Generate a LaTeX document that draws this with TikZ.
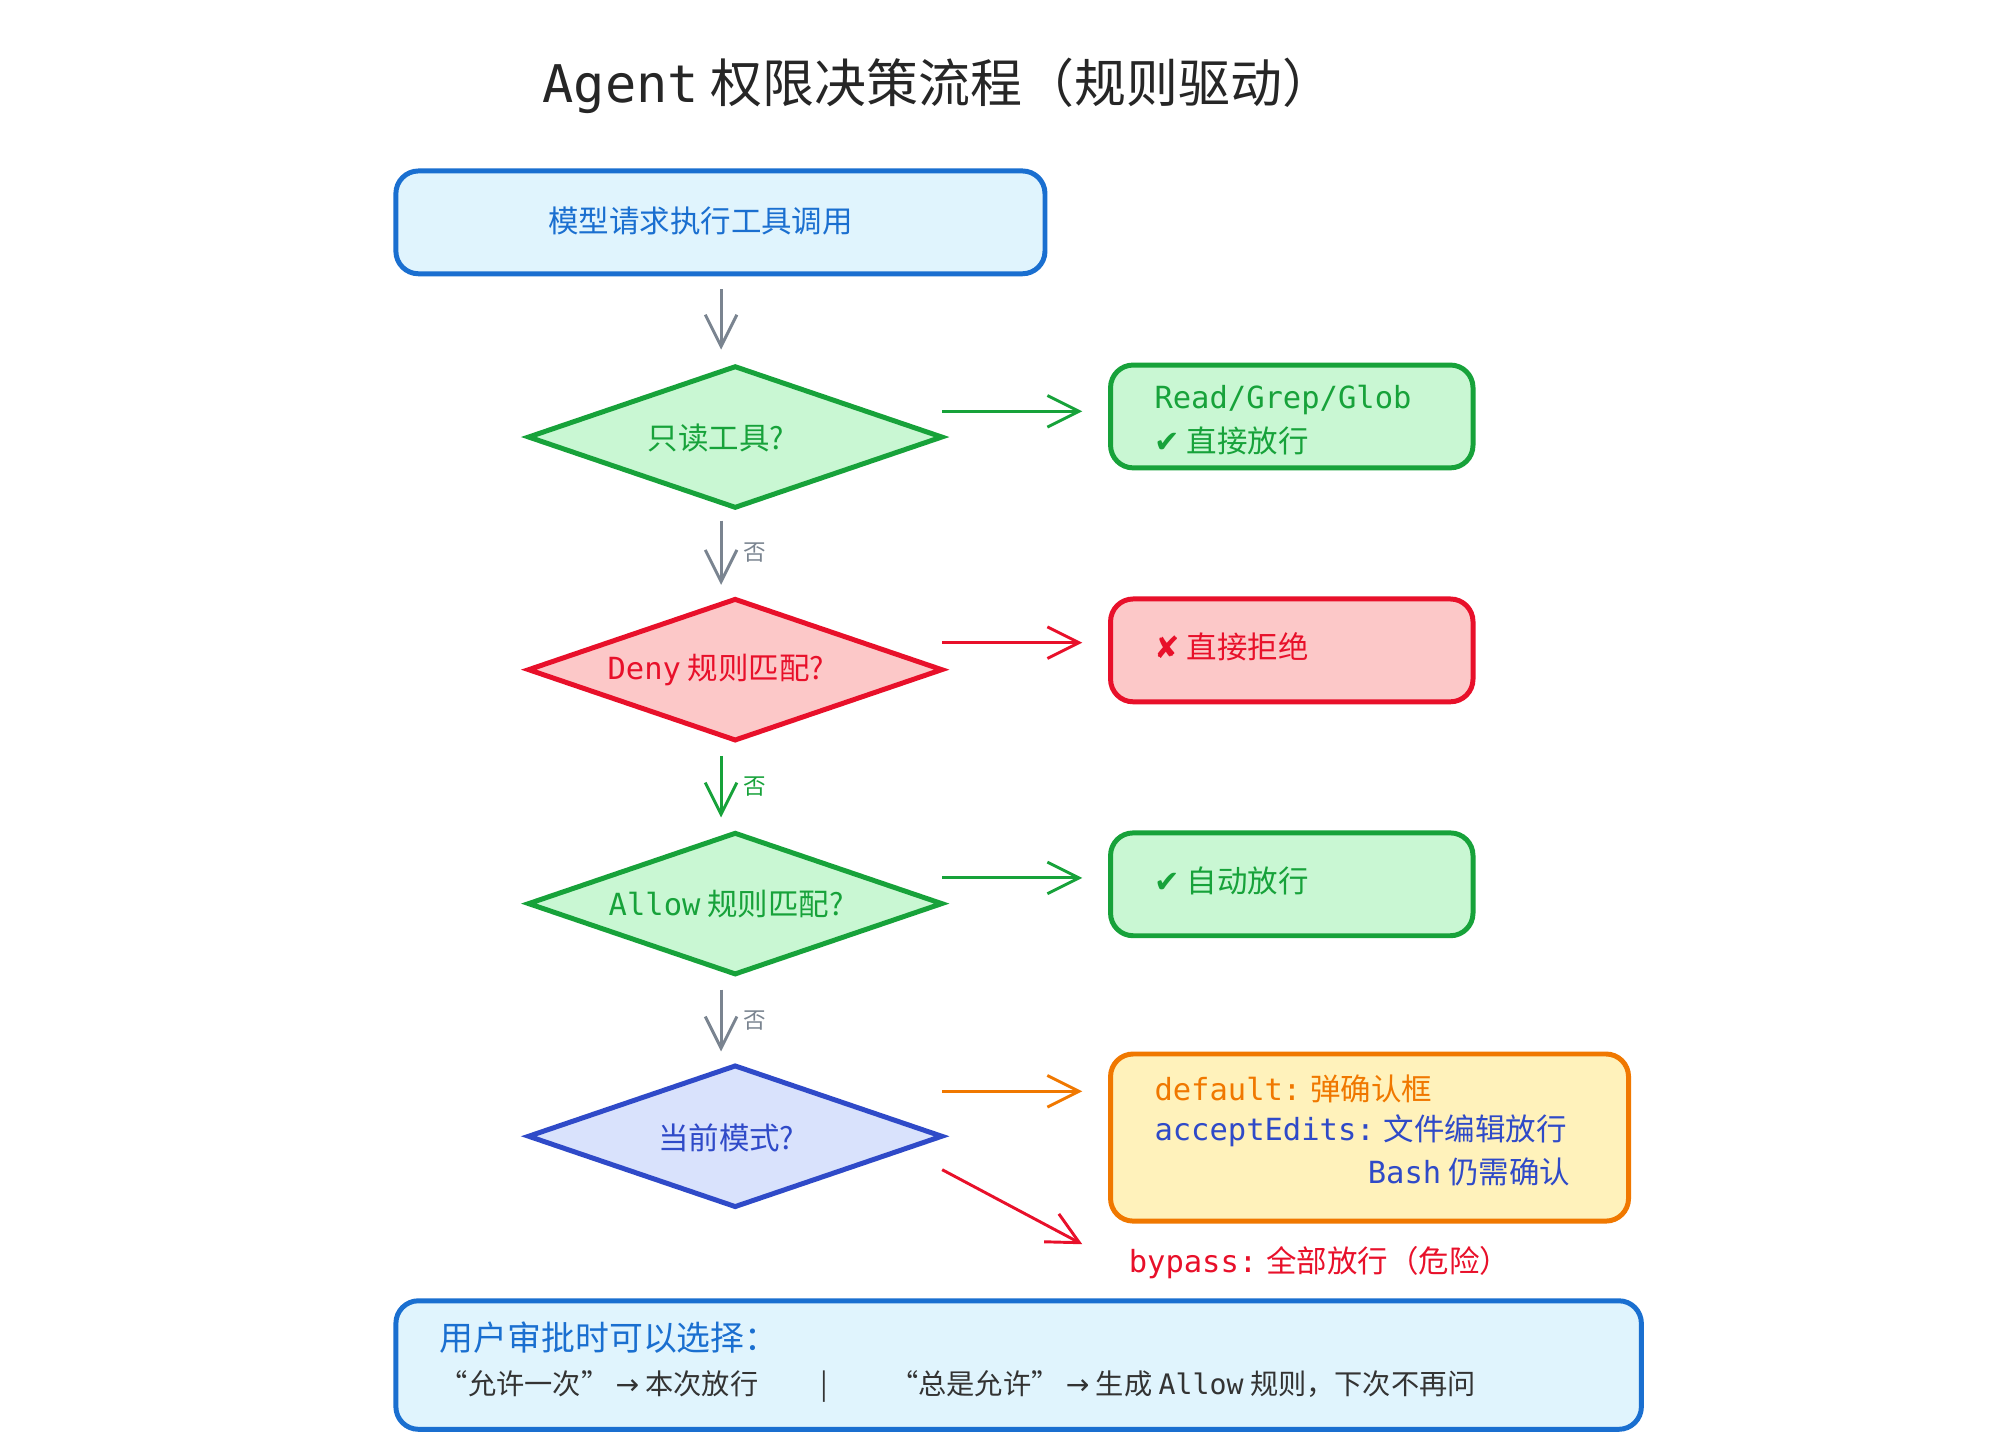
\documentclass[tikz,border=0pt]{standalone}
\usepackage{fontspec}
\setmainfont{Noto Sans CJK SC}
\setmonofont{DejaVu Sans Mono}
\newfontfamily\sym{DejaVu Sans}
\usetikzlibrary{arrows.meta,shapes.geometric}
\definecolor{gblue}{HTML}{1A6FD0}
\definecolor{lblue}{HTML}{E0F4FD}
\definecolor{ggreen}{HTML}{17A23A}
\definecolor{lgreen}{HTML}{C9F7D3}
\definecolor{rred}{HTML}{E8102A}
\definecolor{lred}{HTML}{FCC8C8}
\definecolor{bblue}{HTML}{2F4AC8}
\definecolor{lbblue}{HTML}{D9E2FC}
\definecolor{oor}{HTML}{F07800}
\definecolor{lyel}{HTML}{FFF2BB}
\definecolor{ggray}{HTML}{7A8490}
\definecolor{dtext}{HTML}{333333}
\begin{document}
\begin{tikzpicture}[x=0.02cm,y=-0.02cm,
  box/.style={draw,line width=2.2pt,rounded corners=10pt},
  dia/.style={diamond,draw,line width=2.2pt,aspect=2.9,minimum width=323*0.02cm,minimum height=111*0.02cm,inner sep=0pt},
  arr/.style={line width=1.3pt,-{Straight Barb[length=14pt,width=14pt,line width=1.3pt]}},
  t/.style={font=\fontsize{13.5pt}{16pt}\selectfont},
  lab/.style={font=\fontsize{10pt}{12pt}\selectfont}]
\useasboundingbox (0,0) rectangle (1556,1126);
\node[font=\fontsize{23pt}{28pt}\selectfont,text=black!85] (title) at (730,67) {\texttt{Agent} 权限决策流程（规则驱动）};
\node[box,draw=gblue,fill=lblue,minimum width=505*0.02cm,minimum height=80*0.02cm] (start) at (560.5,173) {};
\node[t,text=gblue] (st) at (545,172) {模型请求执行工具调用};
\node[dia,draw=ggreen,fill=lgreen] (d1) at (572,340) {};
\node[t,text=ggreen] at (557,341) {只读工具?};
\node[dia,draw=rred,fill=lred] (d2) at (572,521) {};
\node[t,text=rred] at (557,521) {\texttt{Deny} 规则匹配?};
\node[dia,draw=ggreen,fill=lgreen] (d3) at (572,703) {};
\node[t,text=ggreen] at (565,703) {\texttt{Allow} 规则匹配?};
\node[dia,draw=bblue,fill=lbblue] (d4) at (572,884) {};
\node[t,text=bblue] at (565,885) {当前模式?};
% right boxes
\node[box,draw=ggreen,fill=lgreen,minimum width=282*0.02cm,minimum height=80*0.02cm] (r1) at (1005,324) {};
\node[t,text=ggreen,anchor=west] at (892,311) {\texttt{Read/Grep/Glob}};
\node[t,text=ggreen,anchor=west] at (892,343) {{\sym ✔} 直接放行};
\node[box,draw=rred,fill=lred,minimum width=282*0.02cm,minimum height=80*0.02cm] (r2) at (1005,506) {};
\node[t,text=rred,anchor=west] at (892,503) {{\sym ✘} 直接拒绝};
\node[box,draw=ggreen,fill=lgreen,minimum width=282*0.02cm,minimum height=80*0.02cm] (r3) at (1005,688) {};
\node[t,text=ggreen,anchor=west] at (892,685) {{\sym ✔} 自动放行};
\node[box,draw=oor,fill=lyel,minimum width=403*0.02cm,minimum height=130*0.02cm] (r4) at (1065.5,885) {};
\node[t,text=oor,anchor=west] at (892,847) {\texttt{default:} 弹确认框};
\node[t,text=bblue,anchor=west] at (892,880) {\texttt{acceptEdits:} 文件编辑放行};
\node[t,text=bblue,anchor=west] at (1058,912) {\texttt{Bash} 仍需确认};
\node[t,text=rred,anchor=west] (byp) at (872,982) {\texttt{bypass:} 全部放行（危险）};
% bottom
\node[box,draw=gblue,fill=lblue,minimum width=969*0.02cm,minimum height=100*0.02cm] (bot) at (792.5,1062) {};
\node[font=\fontsize{15pt}{18pt}\selectfont,text=gblue,anchor=west] at (336,1041) {用户审批时可以选择：};
\node[t,text=dtext,anchor=west,font=\fontsize{12.5pt}{15pt}\selectfont] at (336,1079) {“允许一次” {\sym →} 本次放行\hspace{2.2em}|\hspace{2.2em}“总是允许” {\sym →} 生成 \texttt{Allow} 规则，下次不再问};
% coordinates for arrows
\coordinate (a1) at (561,225); \coordinate (a2) at (561,272);
\draw[arr,ggray] (a1) -- (a2);
\coordinate (b1) at (561,405); \coordinate (b2) at (561,455);
\draw[arr,ggray] (b1) -- node[lab,right=6pt,text=ggray]{否} (b2);
\coordinate (c1) at (561,588); \coordinate (c2) at (561,636);
\draw[arr,ggreen] (c1) -- node[lab,right=6pt,text=ggreen]{否} (c2);
\coordinate (e1) at (561,770); \coordinate (e2) at (561,818);
\draw[arr,ggray] (e1) -- node[lab,right=6pt,text=ggray]{否} (e2);
\coordinate (h1) at (733,320); \coordinate (h2) at (842,320);
\draw[arr,ggreen] (h1) -- (h2);
\coordinate (i1) at (733,500); \coordinate (i2) at (842,500);
\draw[arr,rred] (i1) -- (i2);
\coordinate (j1) at (733,683); \coordinate (j2) at (842,683);
\draw[arr,ggreen] (j1) -- (j2);
\coordinate (k1) at (733,849); \coordinate (k2) at (842,849);
\draw[arr,oor] (k1) -- (k2);
\coordinate (m1) at (733,910); \coordinate (m2) at (842,968);
\draw[arr,rred] (m1) -- (m2);
\end{tikzpicture}
\end{document}
